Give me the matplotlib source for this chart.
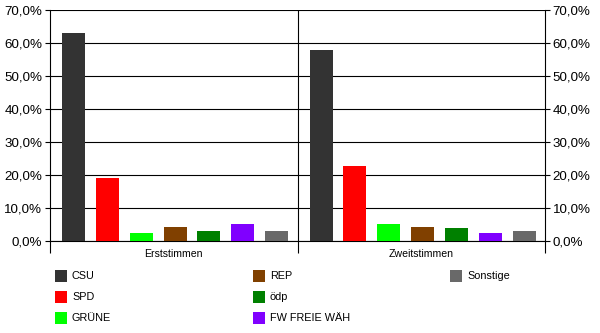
import numpy as np
import matplotlib
matplotlib.use("Agg")
import matplotlib.pyplot as plt
from matplotlib.patches import Rectangle

plt.rcParams['font.family'] = ['Liberation Sans', 'DejaVu Sans']

# data
groups = ["Erststimmen", "Zweitstimmen"]
parties = ["CSU", "SPD", "GRÜNE", "REP", "ödp", "FW FREIE WÄH", "Sonstige"]
erst = [63.0, 19.1, 2.4, 4.2, 3.0, 5.1, 3.0]
zweit = [57.9, 22.7, 5.2, 4.2, 3.9, 2.4, 3.0]
colors = ["#333333", "#ff0000", "#00ff00", "#804000", "#008000", "#8000ff", "#696969"]
yticks = [0, 10, 20, 30, 40, 50, 60, 70]

values = np.array([erst, zweit])

fig = plt.figure(figsize=(6, 3.33), dpi=100)
ax = fig.add_axes([50 / 600, 1 - 241 / 333, 495 / 600, 231 / 333])

# bar layout inside each category
first = 0.095
step = 0.1367
width = 0.093
for i, party in enumerate(parties):
    xs = np.arange(len(groups)) + first + i * step
    ax.bar(xs, values[:, i], width=width, color=colors[i], zorder=3, linewidth=0)

ax.set_xlim(0, len(groups))
ax.set_ylim(0, 70)

# y axis on both sides
ax.set_yticks(yticks)
ax.set_yticklabels([f"{v:.1f}%".replace(".", ",") for v in yticks])
ax.tick_params(axis="y", which="major", direction="out", length=3.6, width=0.8,
               left=True, right=True, labelleft=True, labelright=True,
               labelsize=9.6, pad=2)
ax.yaxis.grid(True, color="black", linewidth=0.8, zorder=1)

# category axis: separators as major ticks, names as minor ticks
ax.set_xticks(np.arange(len(groups) + 1))
ax.set_xticklabels([])
ax.set_xticks(np.arange(len(groups)) + 0.5, minor=True)
ax.set_xticklabels(groups, minor=True)
ax.tick_params(axis="x", which="major", direction="out", length=8.6, width=0.8)
ax.tick_params(axis="x", which="minor", length=0, labelsize=7.6, pad=6)
for k in range(1, len(groups)):
    ax.axvline(k, color="black", linewidth=0.8, zorder=2)

for side in ["left", "right", "bottom"]:
    ax.spines[side].set_linewidth(0.8)
ax.spines["top"].set_visible(False)

# legend, filled column by column like the original
col_x = [55, 253, 450]
row_y = [276, 297, 318]
for i, party in enumerate(parties):
    cx = col_x[i // 3]
    cy = row_y[i % 3]
    fig.add_artist(Rectangle((cx / 600, 1 - (cy + 6) / 333), 12 / 600, 12 / 333,
                             transform=fig.transFigure, facecolor=colors[i],
                             edgecolor="none"))
    fig.text((cx + 17) / 600, 1 - cy / 333, party, fontsize=7.8, va="center", ha="left")

fig.savefig("out.png", dpi=100)
